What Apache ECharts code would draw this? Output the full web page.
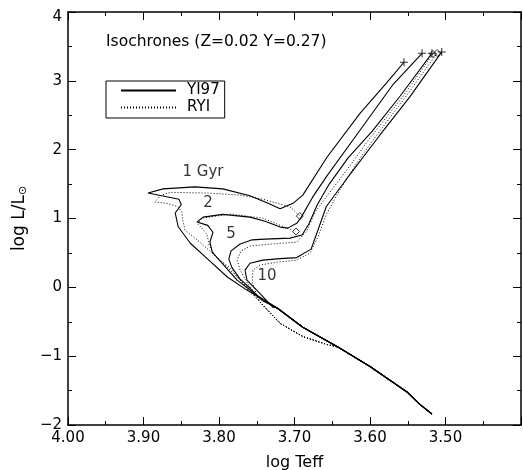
<!DOCTYPE html>
<html>
<head>
<meta charset="utf-8">
<script src="https://cdn.jsdelivr.net/npm/echarts@6/dist/echarts.min.js"></script>
<style>
html,body{margin:0;padding:0;background:#fff;}
#chart{width:523px;height:470px;}
</style>
</head>
<body>
<div id="chart"></div>
<script>
// ---- Data (log Teff, log L/Lsun) ----
const xTicks = [3.4, 3.5, 3.6, 3.7, 3.8, 3.9, 4.0];
const yTicks = [-2, -1, 0, 1, 2, 3, 4];

// shared lower main sequence
const yiLowerMS = [[3.518,-1.84],[3.534,-1.70],[3.551,-1.52],[3.600,-1.15],[3.642,-0.87],[3.689,-0.58],[3.723,-0.30]];
const ryiLowerMS = [[3.518,-1.84],[3.534,-1.70],[3.551,-1.52],[3.600,-1.15],[3.642,-0.87],[3.657,-0.83],[3.688,-0.72],[3.719,-0.525],[3.746,-0.21]];

// YI97 isochrones (solid), upper parts
const yi1Gyr = [[3.763,-0.04],[3.789,0.15],[3.816,0.42],[3.838,0.64],[3.854,0.88],[3.858,1.08],[3.850,1.20],[3.853,1.28],[3.894,1.37],[3.874,1.43],[3.832,1.46],[3.795,1.43],[3.759,1.33],[3.735,1.22],[3.719,1.14],[3.702,1.22],[3.689,1.34],[3.657,1.89],[3.613,2.53],[3.578,2.97],[3.555,3.27]];
const yi2Gyr = [[3.748,-0.13],[3.776,0.105],[3.796,0.35],[3.809,0.51],[3.812,0.66],[3.808,0.80],[3.815,0.90],[3.829,0.95],[3.821,1.02],[3.795,1.06],[3.759,1.02],[3.739,0.96],[3.719,0.875],[3.709,0.86],[3.697,0.93],[3.691,1.02],[3.676,1.31],[3.657,1.62],[3.613,2.285],[3.570,2.94],[3.531,3.40]];
const yi5Gyr = [[3.743,-0.19],[3.759,-0.01],[3.772,0.12],[3.783,0.29],[3.787,0.41],[3.784,0.53],[3.772,0.63],[3.756,0.69],[3.739,0.70],[3.706,0.715],[3.690,0.76],[3.681,0.92],[3.670,1.195],[3.654,1.50],[3.629,1.88],[3.597,2.27],[3.560,2.78],[3.518,3.40]];
const yi10Gyr = [[3.7285,-0.29],[3.750,-0.04],[3.763,0.105],[3.7655,0.25],[3.759,0.35],[3.742,0.395],[3.719,0.417],[3.697,0.432],[3.678,0.555],[3.669,0.83],[3.658,1.17],[3.632,1.56],[3.587,2.21],[3.547,2.77],[3.505,3.42]];

// RYI isochrones (dotted), upper parts
const ryi1Gyr = [[3.759,-0.04],[3.776,0.15],[3.803,0.44],[3.829,0.69],[3.845,0.83],[3.848,0.98],[3.849,1.09],[3.854,1.17],[3.869,1.22],[3.885,1.24],[3.878,1.33],[3.865,1.38],[3.816,1.37],[3.772,1.34],[3.742,1.28],[3.706,1.17],[3.693,1.035]];
const ryi2Gyr = [[3.759,-0.07],[3.772,0.105],[3.785,0.28],[3.805,0.45],[3.813,0.61],[3.816,0.77],[3.824,0.875],[3.828,0.92],[3.8225,1.006],[3.785,1.064],[3.742,1.006],[3.710,0.86],[3.698,0.81]];
const ryi5Gyr = [[3.7536,-0.07],[3.764,0.09],[3.772,0.25],[3.776,0.395],[3.771,0.526],[3.759,0.60],[3.732,0.628],[3.697,0.657],[3.683,0.83],[3.673,1.09],[3.653,1.384],[3.625,1.79],[3.600,2.17],[3.557,2.765],[3.5166,3.39]];
const ryi10Gyr = [[3.751,-0.084],[3.756,0.076],[3.755,0.25],[3.746,0.323],[3.723,0.366],[3.697,0.395],[3.6795,0.497],[3.669,0.73],[3.657,1.078],[3.640,1.413],[3.6185,1.79],[3.596,2.14],[3.554,2.75],[3.511,3.404]];

const ageLabels = ['1 Gyr', '2', '5', '10'];
const titleText = 'Isochrones (Z=0.02 Y=0.27)';

// ---- build ----
const FONT = 'DejaVu Sans';
const yiCurves = [yi1Gyr, yi2Gyr, yi5Gyr, yi10Gyr].map(a => yiLowerMS.concat(a));
const ryiCurves = [ryi1Gyr, ryi2Gyr, ryi5Gyr, ryi10Gyr].map(a => ryiLowerMS.concat(a));
const yiTips = yiCurves.map(a => a[a.length - 1]);
const ryiEnds = ryiCurves.map(a => a[a.length - 1]);
const labelAnchors = [[3.8212,1.674],[3.8146,1.224],[3.7841,0.773],[3.7364,0.163]];

const chart = echarts.init(document.getElementById('chart'), null, {renderer: 'canvas'});
const axisLineStyle = {color: '#000', width: 1.5};
function xAxisCfg(pos, showLabel) {
  return {
    type: 'value', position: pos, inverse: true,
    min: xTicks[0], max: xTicks[xTicks.length - 1], interval: 0.1,
    axisLine: {show: true, onZero: false, lineStyle: axisLineStyle},
    axisTick: {show: true, inside: true, length: 8, lineStyle: {color: '#000', width: 1}},
    minorTick: {show: true, splitNumber: 2, length: 4, lineStyle: {color: '#000', width: 1}},
    splitLine: {show: false}, minorSplitLine: {show: false},
    axisLabel: {show: showLabel, margin: 6, color: '#000', fontSize: 15, fontFamily: FONT,
      formatter: v => (Math.abs(v - xTicks[0]) < 1e-6 ? '' : v.toFixed(2))},
    name: showLabel ? 'log Teff' : '', nameLocation: 'middle', nameGap: 30,
    nameTextStyle: {color: '#000', fontSize: 16, fontFamily: FONT}
  };
}
function yAxisCfg(pos, showLabel) {
  return {
    type: 'value', position: pos,
    min: yTicks[0], max: yTicks[yTicks.length - 1], interval: 1,
    axisLine: {show: true, onZero: false, lineStyle: axisLineStyle},
    axisTick: {show: true, inside: true, length: 8, lineStyle: {color: '#000', width: 1}},
    minorTick: {show: true, splitNumber: 2, length: 4, lineStyle: {color: '#000', width: 1}},
    splitLine: {show: false}, minorSplitLine: {show: false},
    axisLabel: {show: showLabel, margin: 6, color: '#000', fontSize: 15, fontFamily: FONT,
      formatter: v => (v === yTicks[yTicks.length - 1] ? '{top|' + v + '}' : String(v).replace('-', '\u2212')),
      rich: {top: {fontSize: 15, fontFamily: FONT, color: '#000', padding: [10, 0, 0, 0]}}},
    name: showLabel ? '{a|log L/L}{s|\u2299}' : '', nameLocation: 'middle', nameGap: 34, nameRotate: 90,
    nameTextStyle: {color: '#000', fontSize: 17, fontFamily: FONT,
      rich: {a: {fontSize: 17, fontFamily: FONT, color: '#000'},
             s: {fontSize: 11, fontFamily: FONT, color: '#000', verticalAlign: 'bottom', padding: [8, 0, 0, 0]}}}
  };
}

const series = [];
yiCurves.forEach(d => series.push({
  name: 'YI97', type: 'line', data: d, symbol: 'none', silent: true,
  itemStyle: {color: '#000'},
  lineStyle: {color: '#000', width: 1.1}, z: 3
}));
ryiCurves.forEach(d => series.push({
  name: 'RYI', type: 'line', data: d, symbol: 'none', silent: true,
  itemStyle: {color: '#000'},
  lineStyle: {color: '#000', width: 1, type: [1, 2]}, z: 2
}));
series.push({
  type: 'scatter', data: yiTips, silent: true,
  symbol: 'path://M-1,-0.13H1V0.13H-1Z M-0.13,-1H0.13V1H-0.13Z', symbolSize: 8,
  itemStyle: {color: '#000'}, z: 4
});
series.push({
  type: 'scatter', data: ryiEnds, silent: true,
  symbol: 'diamond', symbolSize: 7,
  itemStyle: {color: 'rgba(255,255,255,0)', borderColor: '#000', borderWidth: 1}, z: 4
});
series.push({
  type: 'scatter', silent: true, symbolSize: 0,
  data: ageLabels.map((t, i) => ({name: t, value: labelAnchors[i]})),
  label: {show: true, position: 'inside', formatter: p => p.name, color: '#000',
    textBorderWidth: 0, fontSize: 15, fontFamily: FONT},
  z: 5
});

chart.setOption({
  animation: false,
  backgroundColor: '#fff',
  textStyle: {fontFamily: FONT},
  title: {text: titleText, left: 106, top: 34, padding: 0,
    textStyle: {fontSize: 15.5, fontWeight: 'normal', color: '#000', fontFamily: FONT}},
  legend: {
    data: ['YI97', 'RYI'], orient: 'vertical', left: 106, top: 81,
    itemWidth: 55, itemHeight: 14, itemGap: 2, padding: [2, 5, 3, 14],
    borderColor: '#000', borderWidth: 1, borderRadius: 0, selectedMode: false,
    itemStyle: {opacity: 0},
    lineStyle: {color: '#000'},
    textStyle: {fontSize: 15, color: '#000', fontFamily: FONT, padding: [0, 0, 0, 6]}
  },
  grid: {left: 68, right: 2, top: 12, bottom: 45, containLabel: false, outerBoundsMode: 'none'},
  xAxis: [xAxisCfg('bottom', true), xAxisCfg('top', false)],
  yAxis: [yAxisCfg('left', true), yAxisCfg('right', false)],
  series: series
});
</script>
</body>
</html>
